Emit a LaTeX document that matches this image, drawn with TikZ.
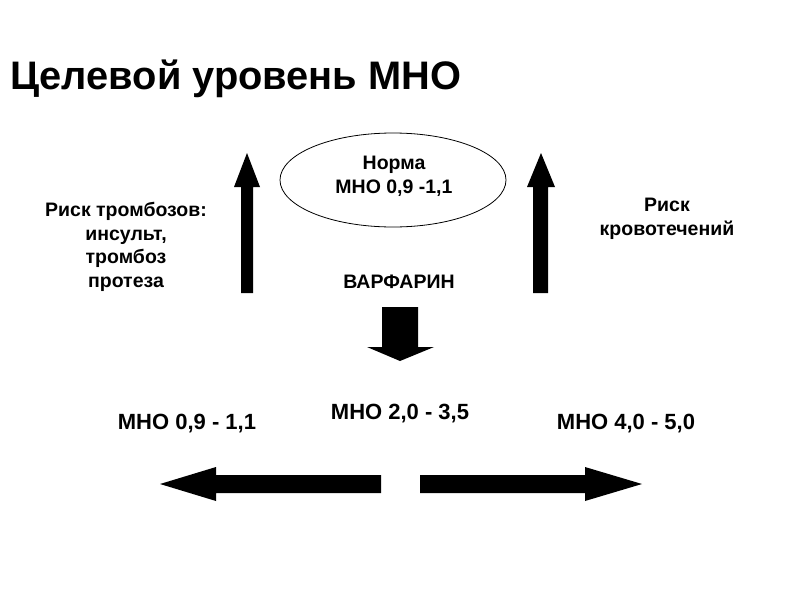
\documentclass[tikz,border=0pt]{standalone}
\usepackage{fontspec}
\setmainfont{Liberation Sans}
\begin{document}
\begin{tikzpicture}[x=1pt,y=-1pt,
  lbl/.style={font=\bfseries\fontsize{19.5}{23.5}\selectfont, inner sep=0pt, align=center},
  val/.style={font=\bfseries\fontsize{22}{26}\selectfont, inner sep=0pt},
  arrowshape/.style={fill=black, draw=none}]
\useasboundingbox[fill=white] (0,0) rectangle (800,600);
% title
\node[anchor=base west, inner sep=0pt, font=\bfseries\fontsize{39.8}{44}\selectfont] (title) at (10,89) {Целевой уровень МНО};
% ellipse
\draw[line width=0.8pt] (393,180) ellipse [x radius=113, y radius=47];
\node[lbl, anchor=base] (norma) at (394,193) {Норма\\МНО 0,9 -1,1};
% side texts
\node[lbl, anchor=base] (thromb) at (126,287) {Риск тромбозов:\\инсульт,\\тромбоз\\протеза};
\node[lbl, anchor=base] (bleed) at (667,235) {Риск\\кровотечений};
\node[lbl, anchor=base] (warf) at (399,288) {ВАРФАРИН};
% values
\node[val, anchor=base] (mid) at (400,419) {МНО 2,0 - 3,5};
\node[val, anchor=base] (low) at (187,429) {МНО 0,9 - 1,1};
\node[val, anchor=base] (high) at (626,429) {МНО 4,0 - 5,0};
% up arrows
\fill[arrowshape] (241,293) -- (241,187) -- (234,187) -- (247,153) -- (260,187) -- (253,187) -- (253,293) -- cycle;
\fill[arrowshape] (533,293) -- (533,187) -- (527,187) -- (541,153) -- (555,187) -- (548,187) -- (548,293) -- cycle;
% down arrow
\fill[arrowshape] (382,307) -- (418,307) -- (418,347) -- (434,347) -- (400,361) -- (367,347) -- (382,347) -- cycle;
% horizontal arrows
\fill[arrowshape] (381,475) -- (216,475) -- (216,467) -- (160,484) -- (216,501) -- (216,493) -- (381,493) -- cycle;
\fill[arrowshape] (420,475) -- (585,475) -- (585,467) -- (642,484) -- (585,501) -- (585,493) -- (420,493) -- cycle;
\end{tikzpicture}
\end{document}
